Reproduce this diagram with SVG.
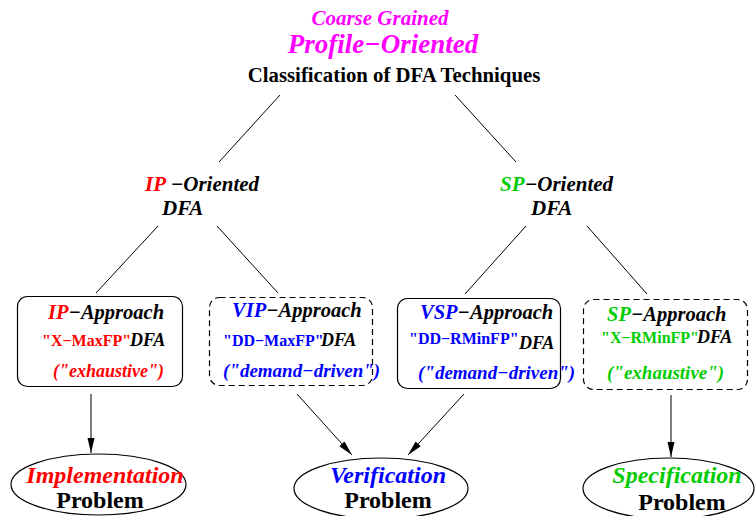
<svg xmlns="http://www.w3.org/2000/svg" width="755" height="516" viewBox="0 0 755 516">
<defs>
<style>
text{font-family:'Liberation Serif','DejaVu Serif',serif;font-weight:bold;}
.it{font-style:italic;}
.red{fill:#ff0000;}
.blue{fill:#0000ff;}
.green{fill:#00cc00;}
.mag{fill:#ff00ff;}
.blk{fill:#000000;}
.line{stroke:#000;stroke-width:1;fill:none;}
.box{fill:none;stroke:#000;stroke-width:1.2;}
.dash{stroke-dasharray:6,4;}
.ell{fill:none;stroke:#000;stroke-width:1.2;}
</style>
<marker id="ah" markerUnits="userSpaceOnUse" markerWidth="16" markerHeight="10" refX="15" refY="5" orient="auto">
<path d="M0,1.5 L15,5 L0,8.5 Z" fill="#000"/>
</marker>
</defs>
<rect width="755" height="516" fill="#fff"/>

<g id="root">
<text class="it mag" x="380" y="25" font-size="21" text-anchor="middle">Coarse Grained</text>
<text class="it mag" x="383" y="53" font-size="27" text-anchor="middle">Profile−Oriented</text>
<text class="blk" x="394" y="82" font-size="20.8" text-anchor="middle">Classification of DFA Techniques</text>
</g>

<g id="connectors">
<line class="line" x1="280" y1="95" x2="219" y2="162"/>
<line class="line" x1="455" y1="95" x2="516" y2="162"/>
<line class="line" x1="158" y1="226" x2="96" y2="293"/>
<line class="line" x1="217" y1="226" x2="278" y2="293"/>
<line class="line" x1="526" y1="226" x2="465" y2="294"/>
<line class="line" x1="587" y1="226" x2="647" y2="294"/>
<line class="line" x1="91" y1="394" x2="91" y2="453" marker-end="url(#ah)"/>
<line class="line" x1="297" y1="394" x2="352" y2="455" marker-end="url(#ah)"/>
<line class="line" x1="464" y1="394" x2="408" y2="455" marker-end="url(#ah)"/>
<line class="line" x1="671" y1="395" x2="671" y2="457" marker-end="url(#ah)"/>
</g>

<g id="ip-oriented">
<text class="it" x="145" y="191" font-size="21"><tspan class="red">IP</tspan><tspan class="blk"> −Oriented</tspan></text>
<text class="it blk" x="162" y="215" font-size="21">DFA</text>
</g>

<g id="sp-oriented">
<text class="it" x="500" y="191" font-size="21"><tspan class="green">SP</tspan><tspan class="blk">−Oriented</tspan></text>
<text class="it blk" x="531" y="215" font-size="21">DFA</text>
</g>

<g id="ip-approach">
<rect class="box" x="17.5" y="296.5" width="165" height="90" rx="10"/>
<text class="it" x="48" y="319" font-size="20.5"><tspan class="red">IP</tspan><tspan class="blk">−Approach</tspan></text>
<text class="red" x="42" y="346" font-size="16">"X−MaxFP"</text>
<text class="it blk" x="130" y="346" font-size="18">DFA</text>
<text class="it red" x="53" y="377" font-size="18">("exhaustive")</text>
</g>

<g id="vip-approach">
<rect class="box dash" x="209.5" y="297.5" width="163" height="88" rx="10"/>
<text class="it" x="232" y="317" font-size="20.5"><tspan class="blue">VIP</tspan><tspan class="blk">−Approach</tspan></text>
<text class="blue" x="223" y="346" font-size="16">"DD−MaxFP"</text>
<text class="it blk" x="321" y="346" font-size="18">DFA</text>
<text class="it blue" x="223" y="377" font-size="19">("demand−driven")</text>
</g>

<g id="vsp-approach">
<rect class="box" x="397.5" y="298.5" width="163" height="90" rx="10"/>
<text class="it" x="420" y="319" font-size="20.5"><tspan class="blue">VSP</tspan><tspan class="blk">−Approach</tspan></text>
<text class="blue" x="409" y="344" font-size="16">"DD−RMinFP"</text>
<text class="it blk" x="519" y="349" font-size="18">DFA</text>
<text class="it blue" x="418" y="379" font-size="19">("demand−driven")</text>
</g>

<g id="sp-approach">
<rect class="box dash" x="583.5" y="299.5" width="164" height="90" rx="10"/>
<text class="it" x="607" y="321" font-size="20.5"><tspan class="green">SP</tspan><tspan class="blk">−Approach</tspan></text>
<text class="green" x="601" y="343" font-size="16">"X−RMinFP"</text>
<text class="it blk" x="697" y="343" font-size="18">DFA</text>
<text class="it green" x="607" y="379" font-size="19">("exhaustive")</text>
</g>

<g id="implementation">
<ellipse class="ell" cx="98.5" cy="484.5" rx="87.5" ry="30.5"/>
<text class="it red" x="105" y="483" font-size="24" text-anchor="middle">Implementation</text>
<text class="blk" x="100" y="508" font-size="24" text-anchor="middle">Problem</text>
</g>

<g id="verification">
<ellipse class="ell" cx="381" cy="488.5" rx="87" ry="30.5"/>
<text class="it blue" x="388" y="483" font-size="24" text-anchor="middle">Verification</text>
<text class="blk" x="388" y="508" font-size="24" text-anchor="middle">Problem</text>
</g>

<g id="specification">
<ellipse class="ell" cx="668.5" cy="488.5" rx="85.5" ry="30.5"/>
<text class="it green" x="677" y="483" font-size="24" text-anchor="middle">Specification</text>
<text class="blk" x="682" y="510" font-size="24" text-anchor="middle">Problem</text>
</g>
</svg>
